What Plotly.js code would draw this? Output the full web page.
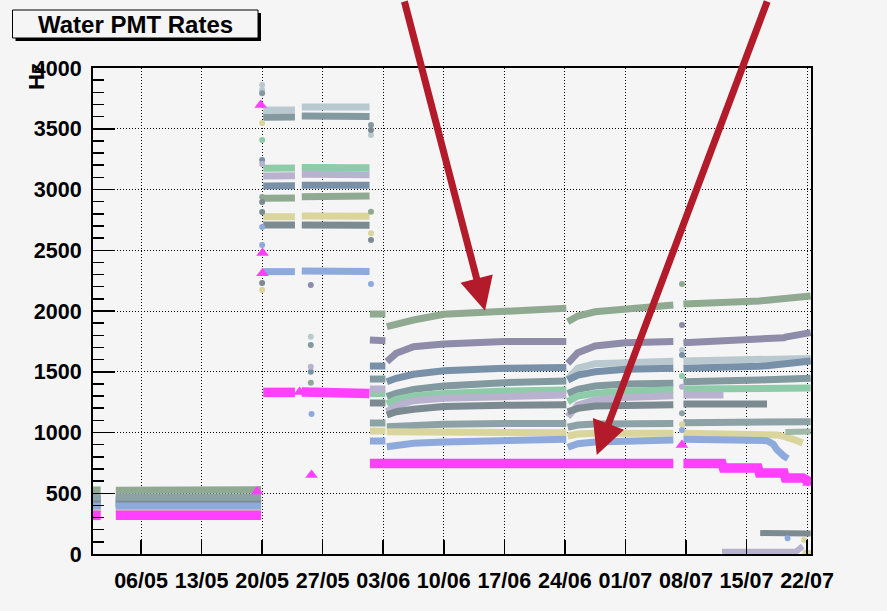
<!DOCTYPE html>
<html>
<head>
<meta charset="utf-8">
<script src="https://cdn.plot.ly/plotly-3.0.1.min.js"></script>
<style>
  html, body { margin: 0; padding: 0; background: #f5f5f5; }
  #chart { width: 887px; height: 611px; }
</style>
</head>
<body>
<div id="chart"></div>
<script>
const N = null;

// Sample times shared by the twelve water-pool PMT rate bands (null rows split the runs)
const sampleTimes = [
  '2012-04-30 10:00', '2012-05-01 08:00', '2012-05-02 00:00',
  '2012-05-03 02:00', '2012-05-19 21:00', '2012-05-19 23:00',
  '2012-05-20 03:00', '2012-05-22 00:00', '2012-05-23 19:00', '2012-05-24 04:00',
  '2012-05-24 14:00', '2012-05-28 12:00', '2012-06-01 10:00', '2012-06-01 10:30',
  '2012-06-01 11:00', '2012-06-03 06:00', '2012-06-03 08:00',
  '2012-06-03 10:00', '2012-06-04 12:00', '2012-06-06 12:00', '2012-06-10 00:00', '2012-06-17 00:00', '2012-06-24 04:00', '2012-06-24 06:00',
  '2012-06-24 08:00', '2012-06-25 12:00', '2012-06-27 12:00', '2012-07-01 00:00', '2012-07-06 13:00', '2012-07-07 04:00',
  '2012-07-07 17:00', '2012-07-11 00:00', '2012-07-12 04:00', '2012-07-12 08:00', '2012-07-16 08:00', '2012-07-16 12:00',
  '2012-07-17 09:00', '2012-07-18 02:00', '2012-07-18 12:00', '2012-07-19 08:00', '2012-07-19 12:00', '2012-07-19 19:00',
  '2012-07-20 12:00', '2012-07-21 12:00', '2012-07-22 10:00'
];

// Rates in Hz, one value per sample time
const rateSage = [
  527, 527, N,
  525, 530, N,
  2927, 2925, 2930, N,
  2940, 2946, 2946, N,
  1975, 1975, N,
  1871, 1893, 1926, 1973, 2003, 2022, N,
  1912, 1959, 1994, 2014, 2049, N,
  2058, 2063, 2066, 2066, 2082, 2083,
  2088, 2092, 2096, 2100, 2102, 2105,
  2110, 2116, 2123
];
const ratePurple = [
  444, 444, N,
  444, 444, N,
  N, N, N, N,
  N, N, N, N,
  1761, 1755, N,
  1583, 1652, 1706, 1728, 1748, 1748, N,
  1569, 1657, 1712, 1739, 1748, N,
  1739, 1748, 1750, 1750, 1761, 1762,
  1765, 1770, 1775, 1780, 1785, 1790,
  1795, 1805, 1822
];
const rateSilver = [
  420, 420, N,
  420, 420, N,
  3654, 3650, 3655, N,
  3678, 3681, 3678, N,
  N, N, N,
  N, N, N, N, N, N, N,
  1440, 1530, 1566, 1578, 1586, N,
  1588, 1591, 1593, 1593, 1598, 1598,
  1600, 1602, 1602, 1604, 1604, 1606,
  1607, 1609, 1610
];
const rateSteel = [
  453, 453, N,
  453, 453, N,
  3029, 3029, 3030, N,
  3034, 3034, 3034, N,
  1547, 1547, N,
  1418, 1446, 1479, 1509, 1528, 1536, N,
  1432, 1473, 1500, 1520, 1528, N,
  1528, 1530, 1532, 1532, 1542, 1545,
  1550, 1556, 1562, 1569, 1572, 1575,
  1580, 1585, 1588
];
const rateTeal = [
  428, 428, N,
  428, 428, N,
  3594, 3590, 3596, N,
  3605, 3605, 3600, N,
  1440, 1440, N,
  1295, 1322, 1355, 1383, 1410, 1424, N,
  1322, 1355, 1383, 1399, 1405, N,
  1418, 1418, 1420, 1420, 1430, 1432,
  1434, 1436, 1437, 1439, 1440, 1441,
  1443, 1445, 1446
];
const rateMint = [
  403, 403, N,
  403, 403, N,
  3174, 3174, 3176, N,
  3182, 3182, 3180, N,
  1320, 1320, N,
  1235, 1273, 1300, 1322, 1342, 1350, N,
  1254, 1300, 1322, 1342, 1350, N,
  1358, 1358, 1360, 1360, 1362, 1362,
  1363, 1363, 1364, 1364, 1365, 1365,
  1366, 1366, 1366
];
const rateLilac = [
  374, 374, N,
  374, 374, N,
  3111, 3111, 3113, N,
  3125, 3125, 3122, N,
  1358, 1358, N,
  1171, 1218, 1262, 1281, 1295, 1309, N,
  1130, 1226, 1267, 1289, 1303, N,
  1309, 1309, 1309, 1309, N, N,
  N, N, N, N, N, N,
  N, N, N
];
const rateSlate = [
  412, 412, N,
  412, 412, N,
  2708, 2708, 2708, N,
  2708, 2708, 2706, N,
  1243, 1243, N,
  1144, 1171, 1191, 1213, 1224, 1229, N,
  1171, 1199, 1218, 1226, 1229, N,
  1235, 1235, 1235, 1235, 1235, 1235,
  1235, N, N, N, N, N,
  N, N, N
];
const rateGrey = [
  469, 469, N,
  469, 469, N,
  N, N, N, N,
  N, N, N, N,
  1078, 1078, N,
  1048, 1053, 1062, 1067, 1075, 1075, N,
  1043, 1062, 1070, 1072, 1075, N,
  1081, 1082, 1082, 1082, 1084, 1084,
  1085, 1085, 1086, 1086, 1087, 1087,
  1088, 1088, 1089
];
const rateKhaki = [
  345, 345, N,
  345, 345, N,
  2776, 2776, 2776, N,
  2782, 2782, 2780, N,
  1012, 1012, N,
  1007, 1007, 1007, 1007, 1005, 998, N,
  971, 988, 993, 993, 993, N,
  993, 993, 993, 993, 992, 992,
  990, 987, 980, 968, 966, 960,
  942, 913, N
];
const rateBlue = [
  395, 395, N,
  395, 395, N,
  2324, 2324, 2324, N,
  2329, 2329, 2326, N,
  930, 930, N,
  883, 897, 911, 922, 933, 944, N,
  878, 908, 922, 933, 938, N,
  944, 940, 938, 938, 938, 938,
  933, 905, 860, 805, 796, 785,
  N, N, N
];
const rateMagenta = [
  318, 318, N,
  318, 318, N,
  1330, 1330, 1330, N,
  1333, 1333, 1320, N,
  745, 745, 745,
  745, 745, 745, 745, 745, 745, 745,
  745, 745, 745, 745, 745, N,
  745, 745, 745, 708, 708, 667,
  667, 667, 667, 667, 625, 625,
  625, 625, 590
];

// Channels that fell to a low rate late in July
const lilacLowTimes = ['2012-07-12 04:00', '2012-07-20 18:00', '2012-07-21 12:00'];
const lilacLowRates = [18, 20, 65];
const slateLowTimes = ['2012-07-16 14:00', '2012-07-19 00:00', '2012-07-19 18:00', '2012-07-20 06:00', '2012-07-22 10:00'];
const slateLowRates = [172, 170, 158, 168, 168];
const sageLateTimes = ['2012-07-19 12:00', '2012-07-22 10:00'];
const sageLateRates = [1005, 1008];

// Isolated readings around the run transitions: time, rate, channel number
const strayTimes = [
  '2012-05-20 00:00', '2012-05-20 00:00', '2012-05-20 00:00', '2012-05-20 00:00', '2012-05-20 00:00',
  '2012-05-20 00:00', '2012-05-20 00:00', '2012-05-20 00:00', '2012-05-20 00:00', '2012-05-20 00:00',
  '2012-05-20 00:00', '2012-05-20 00:00', '2012-05-20 00:00', '2012-05-20 00:00',
  '2012-05-19 20:00', '2012-05-20 01:00', '2012-05-20 01:00', '2012-05-19 10:00',
  '2012-05-25 15:00', '2012-05-25 15:00', '2012-05-25 15:00', '2012-05-25 15:00', '2012-05-25 15:00',
  '2012-05-25 15:00', '2012-05-25 17:00', '2012-05-25 17:00', '2012-05-24 08:00',
  '2012-06-01 14:00', '2012-06-01 14:00', '2012-06-01 14:00', '2012-06-01 14:00', '2012-06-01 14:00',
  '2012-06-01 14:00', '2012-06-01 14:00',
  '2012-07-07 13:00', '2012-07-07 13:00', '2012-07-07 13:00', '2012-07-07 13:00', '2012-07-07 13:00',
  '2012-07-07 13:00', '2012-07-07 13:00', '2012-07-07 13:00', '2012-07-07 13:00', '2012-07-07 13:00',
  '2012-07-19 18:00', '2012-07-21 16:00', '2012-07-21 20:00', '2012-07-22 06:00', '2012-07-22 04:00'
];
const strayRates = [
  3860, 3819, 3792, 3547, 3407,
  3243, 3210, 2938, 2897, 2815,
  2691, 2543, 2230, 2173,
  3695, 2477, 2310, 515,
  2214, 1789, 1720, 1542, 1501,
  1410, 1152, 650, 1333,
  3531, 3490, 3448, 2817, 2639,
  2584, 2222,
  2222, 1885, 1679, 1638, 1465,
  1377, 1158, 1067, 1021, 897,
  130, 115, 10, 8, 585
];
const strayPmt = [
  3, 3, 5, 10, 6,
  4, 7, 1, 8, 8,
  11, 11, 8, 10,
  12, 12, 12, 12,
  2, 3, 5, 7, 4,
  1, 11, 12, 12,
  5, 8, 3, 1, 10,
  8, 11,
  1, 2, 3, 4, 6,
  7, 9, 10, 11, 12,
  11, 10, 10, 10, 12
];

// ---- drawing ----
const channels = [
  { id: 1,  rates: rateSage,    color: '#8faa90' },
  { id: 2,  rates: ratePurple,  color: '#8e8ca9' },
  { id: 3,  rates: rateSilver,  color: '#bac9d0' },
  { id: 4,  rates: rateSteel,   color: '#7891a8' },
  { id: 5,  rates: rateTeal,    color: '#82999f' },
  { id: 6,  rates: rateMint,    color: '#8ecba9' },
  { id: 7,  rates: rateLilac,   color: '#b9b2cf' },
  { id: 8,  rates: rateSlate,   color: '#7b8b91' },
  { id: 9,  rates: rateGrey,    color: '#8ca2a6' },
  { id: 10, rates: rateKhaki,   color: '#d9d59c' },
  { id: 11, rates: rateBlue,    color: '#8eaadd' },
  { id: 12, rates: rateMagenta, color: '#ff40ff' }
];
const colorOf = id => channels.find(c => c.id === id).color;

const traces = [];
function band(x, y, color, width) {
  traces.push({
    type: 'scatter', mode: 'lines', x: x, y: y,
    line: { color: color, width: width },
    connectgaps: false, hoverinfo: 'skip'
  });
}

channels.slice(0, 11).forEach(c => band(sampleTimes, c.rates, c.color, 7));
band(lilacLowTimes, lilacLowRates, colorOf(7), 6);
band(slateLowTimes, slateLowRates, colorOf(8), 6);
band(sageLateTimes, sageLateRates, '#a0b8a9', 6);

// magenta channel band sits above the others
band(sampleTimes, rateMagenta, colorOf(12), 9.5);

// isolated readings, grouped by channel
channels.forEach(c => {
  const idx = strayPmt.map((p, i) => p === c.id ? i : -1).filter(i => i >= 0);
  if (!idx.length) return;
  const isMag = c.id === 12;
  traces.push({
    type: 'scatter', mode: 'markers',
    x: idx.map(i => strayTimes[i]), y: idx.map(i => strayRates[i]),
    marker: { color: c.color, size: isMag ? 11 : 6, symbol: isMag ? 'triangle-up' : 'circle' },
    hoverinfo: 'skip'
  });
});

// plot-area pixel helpers for the decorations outside the axes
const L = 93, R = 811, T = 68, B = 554;
const px = v => (v - L) / (R - L);
const py = v => (B - v) / (B - T);

const boldFont = (size) => ({ family: 'Liberation Sans, Arial, sans-serif', size: size, color: '#000', weight: 'bold' });

const layout = {
  width: 887, height: 611,
  margin: { l: L, r: 887 - R, t: T, b: 611 - B, pad: 0 },
  paper_bgcolor: '#f5f5f5',
  plot_bgcolor: '#f5f5f5',
  showlegend: false,
  hovermode: false,
  xaxis: {
    type: 'date',
    range: ['2012-04-30 10:40', '2012-07-22 11:00'],
    tickmode: 'linear', tick0: '2012-05-06', dtick: 7 * 86400000,
    tickformat: '%d/%m',
    ticks: 'inside', ticklen: 14, tickwidth: 1.5, tickcolor: '#000',
    showgrid: true, gridcolor: '#000', gridwidth: 1, griddash: '1px,2px',
    showline: true, mirror: true, linecolor: '#000', linewidth: 2,
    zeroline: false,
    tickfont: boldFont(21.5),
    ticklabelstandoff: 6
  },
  yaxis: {
    range: [0, 4000],
    tickmode: 'linear', tick0: 0, dtick: 500,
    ticks: 'inside', ticklen: 22, tickwidth: 1.5, tickcolor: '#000',
    minor: { dtick: 100, ticks: 'inside', ticklen: 11, tickwidth: 1.5, tickcolor: '#000', showgrid: false },
    showgrid: true, gridcolor: '#000', gridwidth: 1, griddash: '1px,2px',
    showline: true, mirror: true, linecolor: '#000', linewidth: 2,
    zeroline: false,
    tickfont: boldFont(21.5),
    ticklabelstandoff: 5
  },
  shapes: [
    // title box with drop shadow
    { type: 'rect', xref: 'paper', yref: 'paper', x0: px(15.5), x1: px(261), y0: py(41), y1: py(13),
      fillcolor: '#000', line: { width: 0 } },
    { type: 'rect', xref: 'paper', yref: 'paper', x0: px(12.5), x1: px(258), y0: py(38), y1: py(10),
      fillcolor: '#f5f5f5', line: { color: '#000', width: 1 } }
  ],
  annotations: [
    { xref: 'paper', yref: 'paper', x: px(135), y: py(25), xanchor: 'center', yanchor: 'middle',
      text: 'Water PMT Rates', showarrow: false, font: boldFont(24) },
    { xref: 'paper', yref: 'paper', x: px(37), y: py(77), xanchor: 'center', yanchor: 'middle',
      text: 'Hz', textangle: -90, showarrow: false, font: boldFont(22) },
    { x: '2012-06-14 18:30', y: 2002, ax: -81, ay: -322, text: '', showarrow: true,
      arrowcolor: '#b31b2b', arrowwidth: 7, arrowhead: 2, arrowsize: 0.95, standoff: 0 },
    { x: '2012-06-27 16:30', y: 815, ax: 171, ay: -463, text: '', showarrow: true,
      arrowcolor: '#b31b2b', arrowwidth: 7, arrowhead: 2, arrowsize: 0.95, standoff: 0 }
  ]
};

Plotly.newPlot('chart', traces, layout, { staticPlot: true, displayModeBar: false });
</script>
</body>
</html>
